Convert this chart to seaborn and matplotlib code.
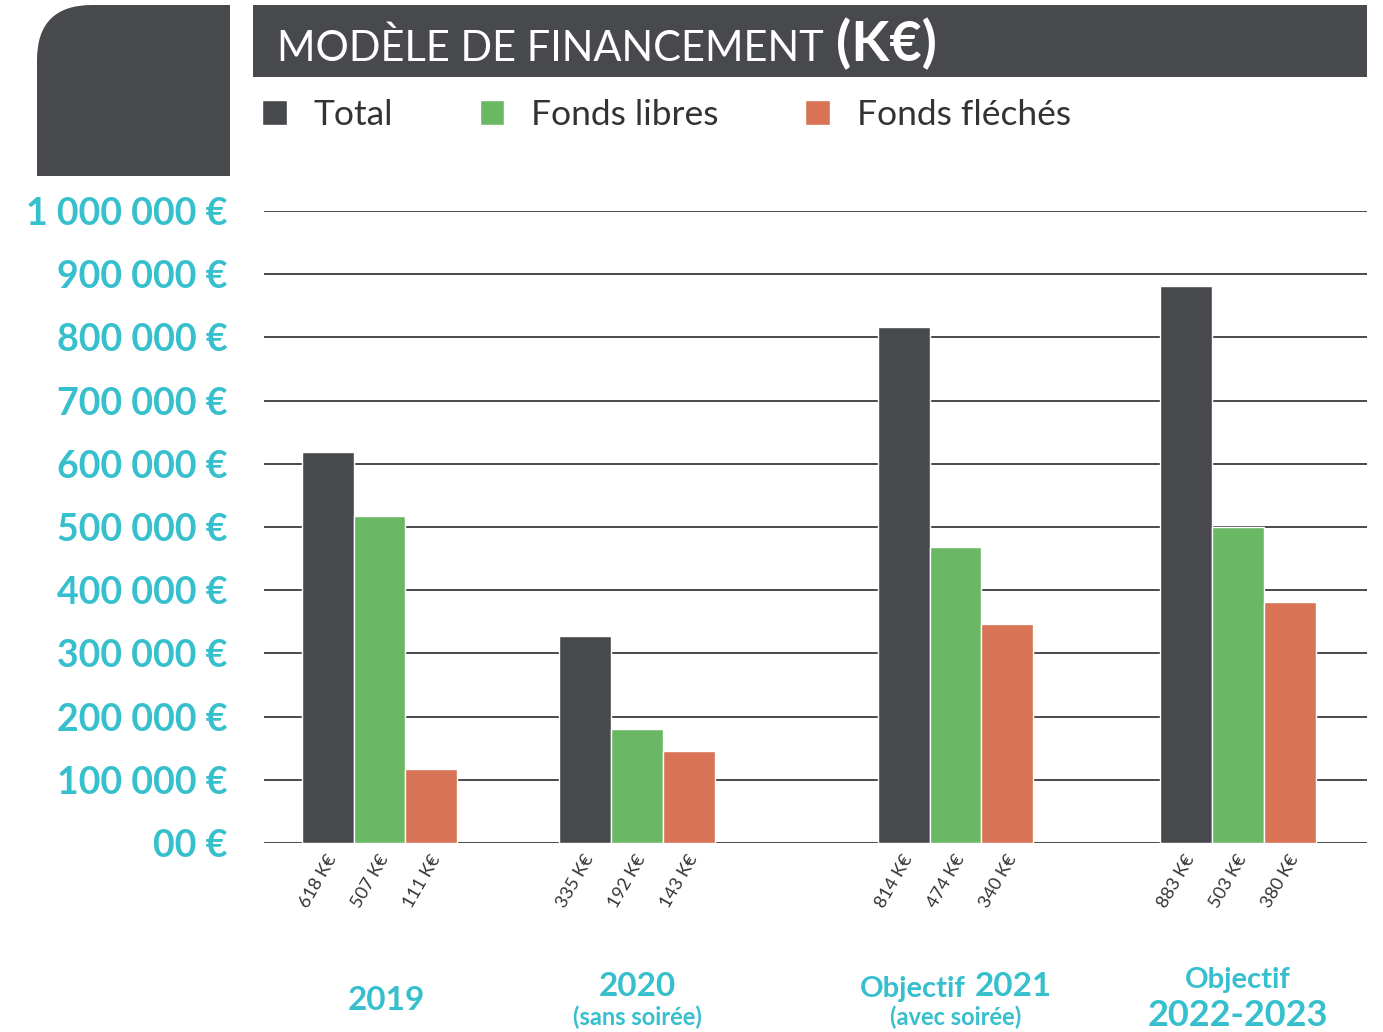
import pandas as pd
import matplotlib.pyplot as plt
import seaborn as sbn
from matplotlib.patches import FancyBboxPatch, Rectangle

# Data (K€ values, labels as printed under bars)
groups = ['2019', '2020', 'Objectif 2021', 'Objectif 2022-2023']
series = ['Total', 'Fonds libres', 'Fonds fléchés']
total = [619, 328, 816, 881]
fonds_libres = [517, 180, 468, 500]
fonds_fleches = [117, 146, 347, 381]
total_labels = ['618 K€', '335 K€', '814 K€', '883 K€']
libres_labels = ['507 K€', '192 K€', '474 K€', '503 K€']
fleches_labels = ['111 K€', '143 K€', '340 K€', '380 K€']
ytick_values = [0, 100000, 200000, 300000, 400000, 500000, 600000, 700000, 800000, 900000, 1000000]
ytick_labels = ['00 €', '100 000 €', '200 000 €', '300 000 €', '400 000 €', '500 000 €',
                '600 000 €', '700 000 €', '800 000 €', '900 000 €', '1 000 000 €']

# layout: group centres along the x axis (uneven spacing like the original)
group_pos = [379.5, 637, 955.5, 1238]

DARK = '#48494d'
GREEN = '#6bb864'
ORANGE = '#d87355'
TEAL = '#36bfcc'
TEXT = '#333333'
FONT = 'Lato'

rows = []
for i, g in enumerate(groups):
    rows.append((group_pos[i], 'Total', total[i] * 1000))
    rows.append((group_pos[i], 'Fonds libres', fonds_libres[i] * 1000))
    rows.append((group_pos[i], 'Fonds fléchés', fonds_fleches[i] * 1000))
df = pd.DataFrame(rows, columns=['pos', 'serie', 'valeur'])

sbn.set_style('white')
plt.rcParams['font.family'] = [FONT, 'DejaVu Sans']

W, H = 1383, 1032
fig = plt.figure(figsize=(W / 100, H / 100), dpi=100)

# decoration layer in pixel coordinates
deco = fig.add_axes([0, 0, 1, 1], zorder=-1)
deco.set_xlim(0, W)
deco.set_ylim(H, 0)
deco.axis('off')

deco.add_patch(FancyBboxPatch((37, 5), 193, 171, boxstyle='round,pad=0,rounding_size=55',
                              fc=DARK, ec='none'))
deco.add_patch(Rectangle((120, 5), 110, 171, fc=DARK, ec='none'))
deco.add_patch(Rectangle((37, 90), 193, 86, fc=DARK, ec='none'))
deco.add_patch(Rectangle((253, 5), 1114, 72, fc=DARK, ec='none'))
deco.text(277, 48, 'MODÈLE DE FINANCEMENT', color='white', fontsize=30,
          va='center', ha='left')
deco.text(836, 44, '(K€)', color='white', fontsize=40, fontweight='bold',
          va='center', ha='left')

# main chart
ax = fig.add_axes([264 / W, 1 - 843 / H, (1367 - 264) / W, (843 - 211) / H])
ax.patch.set_alpha(0)
sbn.barplot(data=df, x='pos', y='valeur', hue='serie', hue_order=series,
            palette=[DARK, GREEN, ORANGE], native_scale=True, width=0.605,
            saturation=1, errorbar=None, ax=ax)
ax.set_xlim(264, 1367)
ax.set_ylim(0, 1000000)
ax.set_yticks(ytick_values)
ax.set_yticklabels(ytick_labels, color=TEAL, fontsize=27, fontweight='bold')
ax.set_xticks([])
ax.set_xlabel('')
ax.set_ylabel('')
ax.tick_params(axis='y', length=0, pad=26)
ax.yaxis.grid(True, color='#2b2b2b', linewidth=1.2)
ax.set_axisbelow(True)
sbn.despine(ax=ax, left=True, bottom=True)

# value labels under each bar
for container, labels in zip(ax.containers, [total_labels, libres_labels, fleches_labels]):
    for bar, lab in zip(container, labels):
        cx = bar.get_x() + bar.get_width() / 2
        ax.annotate(lab, xy=(cx, 0), xytext=(5, -13), textcoords='offset pixels',
                    rotation=60, rotation_mode='anchor', ha='right', va='center',
                    fontsize=13, color=TEXT, annotation_clip=False)

sbn.move_legend(ax, loc='center left', bbox_to_anchor=(262 / W, 1 - 115 / H),
                bbox_transform=fig.transFigure, ncol=3, frameon=False, title=None,
                fontsize=25.5, labelcolor=TEXT, handlelength=0.7, handleheight=0.7,
                handletextpad=0.75, columnspacing=2.45, borderpad=0, borderaxespad=0)

# category labels below the chart
deco.text(group_pos[0] + 7, 1000, '2019', color=TEAL, fontsize=24, fontweight='bold',
          ha='center', va='center')
deco.text(group_pos[1], 987, '2020', color=TEAL, fontsize=24, fontweight='bold',
          ha='center', va='center')
deco.text(group_pos[1], 1017, '(sans soirée)', color=TEAL, fontsize=17, fontweight='bold',
          ha='center', va='center')
deco.text(group_pos[2] + 10, 989, 'Objectif', color=TEAL, fontsize=21, fontweight='bold',
          ha='right', va='center')
deco.text(group_pos[2] + 19, 987, '2021', color=TEAL, fontsize=24, fontweight='bold',
          ha='left', va='center')
deco.text(group_pos[2], 1017, '(avec soirée)', color=TEAL, fontsize=17, fontweight='bold',
          ha='center', va='center')
deco.text(group_pos[3], 980, 'Objectif', color=TEAL, fontsize=21, fontweight='bold',
          ha='center', va='center')
deco.text(group_pos[3], 1016, '2022-2023', color=TEAL, fontsize=26, fontweight='bold',
          ha='center', va='center')

fig.savefig('out.png', dpi=100)
